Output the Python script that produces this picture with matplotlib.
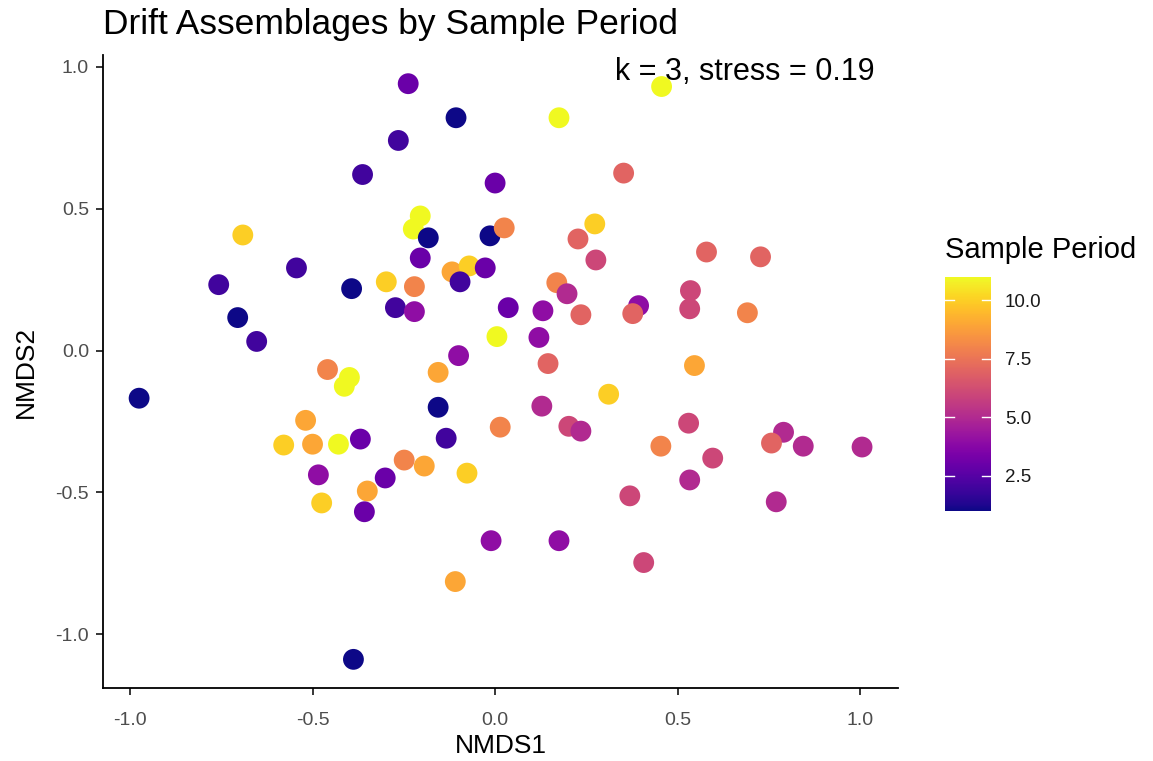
import matplotlib
matplotlib.use("Agg")
import matplotlib.pyplot as plt
import numpy as np

plt.rcParams['font.family'] = ['Liberation Sans', 'DejaVu Sans']

# NMDS scores and sampling period for each drift sample
nmds1 = [0.456, -0.238, -0.107, 0.175, -0.265, -0.363, 0.000, 0.352, -0.691, -0.757,
         -0.544, -0.393, -0.298, -0.273, -0.705, -0.653, -0.459, -0.399, -0.413, -0.975,
         -0.519, -0.579, -0.500, -0.429, -0.369, -0.484, -0.475, -0.301, -0.350, -0.358,
         -0.388, -0.249, -0.194, -0.077, -0.134, -0.156, -0.156, -0.100, 0.005, 0.120,
         0.145, 0.311, 0.128, 0.014, 0.202, 0.235, 0.454, 0.369, -0.011, 0.175,
         0.407, -0.109, 0.546, 0.530, 0.596, 0.533, 0.790, 0.757, 0.844, 1.005,
         0.770, 0.579, 0.727, 0.535, 0.533, 0.691, 0.393, -0.205, -0.224, -0.183,
         -0.014, 0.025, 0.273, 0.227, 0.276, -0.205, -0.118, -0.071, -0.096, -0.027,
         -0.221, -0.221, 0.036, 0.169, 0.197, 0.131, 0.235, 0.377]
nmds2 = [0.930, 0.940, 0.820, 0.820, 0.740, 0.620, 0.590, 0.625, 0.407, 0.232,
         0.291, 0.218, 0.242, 0.151, 0.116, 0.032, -0.067, -0.095, -0.126, -0.168,
         -0.246, -0.333, -0.330, -0.330, -0.312, -0.438, -0.537, -0.449, -0.495, -0.568,
         -1.088, -0.386, -0.407, -0.432, -0.309, -0.200, -0.077, -0.018, 0.049, 0.046,
         -0.046, -0.154, -0.196, -0.270, -0.267, -0.284, -0.337, -0.512, -0.670, -0.670,
         -0.747, -0.814, -0.053, -0.256, -0.379, -0.456, -0.288, -0.326, -0.337, -0.340,
         -0.533, 0.347, 0.330, 0.211, 0.147, 0.133, 0.158, 0.474, 0.428, 0.397,
         0.404, 0.432, 0.446, 0.393, 0.319, 0.326, 0.277, 0.298, 0.242, 0.291,
         0.225, 0.137, 0.151, 0.239, 0.200, 0.140, 0.126, 0.130]
period = [11, 3, 1, 11, 2, 2, 3, 7, 10, 2,
          2, 1, 10, 2, 1, 2, 8, 11, 11, 1,
          9, 10, 9, 11, 3, 4, 10, 3, 9, 3,
          1, 8, 9, 10, 2, 1, 9, 4, 11, 4,
          7, 10, 5, 8, 6, 5, 8, 6, 4, 4,
          6, 9, 9, 6, 6, 5, 5, 7, 5, 5,
          5, 7, 7, 6, 6, 8, 4, 11, 11, 1,
          1, 8, 10, 7, 6, 3, 9, 10, 2, 3,
          8, 4, 3, 8, 5, 4, 7, 7]

ticks = [-1.0, -0.5, 0.0, 0.5, 1.0]
cbar_ticks = [2.5, 5.0, 7.5, 10.0]

fig = plt.figure(figsize=(11.53, 7.61), dpi=100)
ax = fig.add_axes([0.0893, 0.0959, 0.6897, 0.8318])

sc = ax.scatter(nmds1, nmds2, c=period, cmap='plasma', vmin=1, vmax=11,
                s=225, edgecolors='none')

ax.set_xlim(-1.074, 1.104)
ax.set_ylim(-1.189, 1.041)
ax.set_xticks(ticks)
ax.set_yticks(ticks)
ax.set_xticklabels([f"{t:.1f}" for t in ticks])
ax.set_yticklabels([f"{t:.1f}" for t in ticks])
ax.tick_params(colors='black', labelcolor='#4d4d4d', labelsize=14, length=5, width=1.1)
ax.tick_params(axis='x', pad=12)
ax.tick_params(axis='y', pad=5)
for side in ['top', 'right']:
    ax.spines[side].set_visible(False)
for side in ['left', 'bottom']:
    ax.spines[side].set_linewidth(1.3)

ax.set_xlabel("NMDS1", fontsize=19, labelpad=4)
ax.set_ylabel("NMDS2", fontsize=19, labelpad=13)
fig.text(0.0893, 0.99, "Drift Assemblages by Sample Period", fontsize=25.5,
         ha='left', va='top')
ax.text(1.04, 1.033, "k = 3, stress = 0.19", fontsize=22, ha='right', va='top')

# colour bar legend in ggplot style
cax = fig.add_axes([945 / 1153, 1 - 511 / 761, 46 / 1153, 234 / 761])
cb = fig.colorbar(sc, cax=cax, ticks=cbar_ticks)
cb.outline.set_visible(False)
cax.tick_params(length=0, labelsize=13.5, pad=10, labelcolor='#1a1a1a')
cax.set_yticklabels([f"{t:.1f}" for t in cbar_ticks])
for t in cbar_ticks:
    cax.axhline(t, xmin=0, xmax=0.2, color='white', lw=1)
    cax.axhline(t, xmin=0.8, xmax=1, color='white', lw=1)
fig.text(945 / 1153, 1 - 250 / 761, "Sample Period", fontsize=21, ha='left', va='center')

fig.savefig("out.png", dpi=100)
